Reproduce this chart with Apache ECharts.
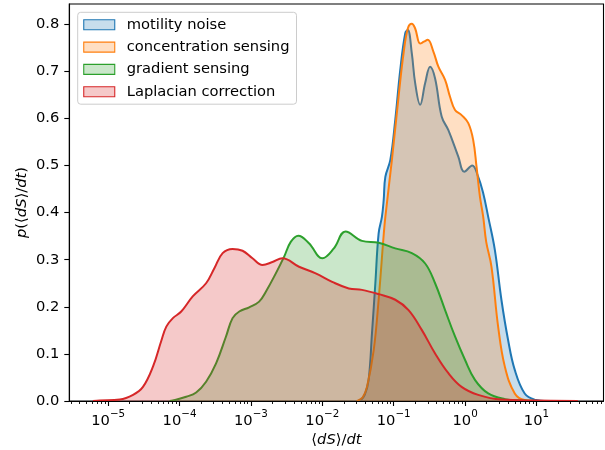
<!DOCTYPE html>
<html><head><meta charset="utf-8">
<script src="https://cdn.jsdelivr.net/npm/echarts@6/dist/echarts.min.js"></script>
<style>html,body{margin:0;padding:0;background:#fff}#c{width:605px;height:450px}</style>
</head><body><div id="c"></div>
<script>
// ---- data (x given as log10 of <dS>/dt, y = density) ----
const seriesNames = ['motility noise', 'concentration sensing', 'gradient sensing', 'Laplacian correction'];

const motilityLogX = [-1.49, -1.462, -1.406, -1.351, -1.304, -1.257, -1.211, -1.165, -1.140, -1.117, -1.047, -0.978, -0.908, -0.838, -0.802, -0.746, -0.699, -0.629, -0.559, -0.490, -0.420, -0.328, -0.234, -0.095, -0.011, 0.100, 0.184, 0.254, 0.324, 0.417, 0.509, 0.602, 0.696, 0.835, 0.975, 1.160];
const motilityDensity = [0, 0.002, 0.013, 0.045, 0.144, 0.250, 0.356, 0.391, 0.427, 0.476, 0.512, 0.597, 0.703, 0.781, 0.788, 0.738, 0.675, 0.629, 0.675, 0.710, 0.685, 0.604, 0.575, 0.519, 0.487, 0.500, 0.476, 0.441, 0.391, 0.321, 0.215, 0.130, 0.066, 0.016, 0.003, 0];

const concentrationLogX = [-1.517, -1.489, -1.433, -1.374, -1.280, -1.211, -1.140, -1.117, -1.025, -0.932, -0.862, -0.802, -0.746, -0.699, -0.629, -0.576, -0.523, -0.444, -0.374, -0.280, -0.211, -0.141, -0.049, 0.045, 0.114, 0.160, 0.208, 0.254, 0.296, 0.370, 0.463, 0.557, 0.696, 0.835, 1.021];
const concentrationDensity = [0, 0.002, 0.008, 0.030, 0.108, 0.215, 0.353, 0.391, 0.512, 0.646, 0.738, 0.791, 0.801, 0.791, 0.759, 0.763, 0.767, 0.742, 0.710, 0.682, 0.646, 0.618, 0.607, 0.590, 0.554, 0.498, 0.434, 0.391, 0.338, 0.285, 0.158, 0.073, 0.016, 0.002, 0];

const gradientLogX = [-4.139, -4.093, -3.907, -3.767, -3.628, -3.488, -3.349, -3.257, -3.163, -3.024, -2.885, -2.791, -2.651, -2.536, -2.442, -2.336, -2.187, -1.999, -1.838, -1.675, -1.444, -1.211, -0.978, -0.746, -0.559, -0.420, -0.280, -0.141, 0.0, 0.138, 0.324, 0.557, 0.784, 1.021];
const gradientDensity = [0, 0.001, 0.009, 0.018, 0.041, 0.080, 0.137, 0.176, 0.190, 0.199, 0.211, 0.232, 0.271, 0.306, 0.338, 0.351, 0.335, 0.303, 0.324, 0.360, 0.340, 0.336, 0.324, 0.314, 0.292, 0.250, 0.193, 0.137, 0.087, 0.045, 0.016, 0.004, 0.001, 0];

const laplacianLogX = [-5.212, -5.116, -4.837, -4.651, -4.512, -4.372, -4.255, -4.185, -4.093, -3.976, -3.815, -3.628, -3.512, -3.396, -3.257, -3.117, -2.978, -2.838, -2.699, -2.559, -2.326, -2.093, -1.862, -1.629, -1.444, -1.211, -0.978, -0.792, -0.607, -0.420, -0.234, -0.049, 0.184, 0.505, 1.021, 1.579];
const laplacianDensity = [0, 0.001, 0.003, 0.013, 0.030, 0.073, 0.128, 0.158, 0.176, 0.190, 0.222, 0.250, 0.282, 0.314, 0.323, 0.319, 0.303, 0.289, 0.295, 0.303, 0.285, 0.271, 0.253, 0.239, 0.236, 0.227, 0.215, 0.193, 0.151, 0.101, 0.059, 0.030, 0.013, 0.003, 0.001, 0];

const xMajorExponents = [-5, -4, -3, -2, -1, 0, 1];
const yTickValues = [0, 0.1, 0.2, 0.3, 0.4, 0.5, 0.6, 0.7, 0.8];

// ---- styling ----
const X_MIN = -5.544, X_MAX = 1.939, Y_MAX = 0.843;
const FONT = 'DejaVu Sans';
const FS = 14.7;
const lineColors = ['#1f77b4', '#ff7f0e', '#2ca02c', '#d62728'];
const fillColors = ['rgba(31,119,180,0.25)', 'rgba(255,127,14,0.25)', 'rgba(44,160,44,0.25)', 'rgba(214,39,40,0.25)'];

const xs = [motilityLogX, concentrationLogX, gradientLogX, laplacianLogX];
const ys = [motilityDensity, concentrationDensity, gradientDensity, laplacianDensity];

const minorTicks = [];
for (let n = -6; n <= 1; n++) {
  for (let k = 2; k <= 9; k++) {
    const v = n + Math.log10(k);
    if (v > X_MIN && v < X_MAX) minorTicks.push(v);
  }
}

const chart = echarts.init(document.getElementById('c'), null, {renderer: 'canvas'});
const series = seriesNames.map((name, i) => ({
  name: name,
  type: 'line',
  xAxisIndex: 0,
  yAxisIndex: 0,
  z: 2 + i,
  data: xs[i].map((x, j) => [x, ys[i][j]]),
  symbol: 'none',
  showSymbol: false,
  smooth: 0.4,
  lineStyle: {color: lineColors[i], width: 2},
  itemStyle: {color: lineColors[i]},
  areaStyle: {color: fillColors[i], opacity: 1},
  emphasis: {disabled: true},
  silent: true
}));

const option = {
  animation: false,
  backgroundColor: '#fff',
  textStyle: {fontFamily: FONT},
  grid: {left: 69.3, right: 1.5, top: 4, bottom: 49, show: true, borderColor: '#000', borderWidth: 1.1, containLabel: false, outerBoundsMode: 'none'},
  legend: {
    orient: 'vertical', left: 77.7, top: 12.3, z: 20,
    itemWidth: 31, itemHeight: 10, itemGap: 7.3,
    padding: [5, 7, 5, 5.5],
    backgroundColor: 'rgba(255,255,255,0.8)', borderColor: '#cccccc', borderWidth: 1, borderRadius: 3,
    textStyle: {fontFamily: FONT, fontSize: FS, color: '#000', padding: [0, 0, 0, 7]},
    selectedMode: false,
    data: seriesNames.map((n, i) => ({name: n, icon: 'rect', itemStyle: {color: fillColors[i], borderColor: lineColors[i], borderWidth: 1.1}}))
  },
  xAxis: [{
    type: 'value', min: X_MIN, max: X_MAX, position: 'bottom', z: 10,
    axisLine: {show: true, onZero: false, lineStyle: {color: '#000', width: 1.1}},
    axisTick: {show: true, customValues: xMajorExponents, length: 5, lineStyle: {color: '#000', width: 1.1}},
    axisLabel: {
      customValues: xMajorExponents, margin: 8, color: '#000',
      formatter: v => '{b|10}{s|' + (v < 0 ? '\u2212' + (-v) : String(v)) + '}',
      rich: {
        b: {fontFamily: FONT, fontSize: FS, color: '#000', lineHeight: 20, verticalAlign: 'bottom'},
        s: {fontFamily: FONT, fontSize: 10.3, color: '#000', lineHeight: 12, verticalAlign: 'top'}
      }
    },
    splitLine: {show: false},
    name: '{n|\u27e8}{i|dS}{n|\u27e9/}{i|dt}', nameLocation: 'middle', nameGap: 31, nameMoveOverlap: false,
    nameTextStyle: {rich: {
      n: {fontFamily: FONT, fontSize: FS, color: '#000', lineHeight: 17},
      i: {fontFamily: FONT, fontSize: FS, fontStyle: 'italic', color: '#000', lineHeight: 17}
    }}
  }, {
    type: 'value', min: X_MIN, max: X_MAX, position: 'bottom',
    axisLine: {show: false, onZero: false},
    axisTick: {show: true, customValues: minorTicks, length: 3, lineStyle: {color: '#000', width: 0.9}},
    axisLabel: {show: false},
    splitLine: {show: false}
  }],
  yAxis: {
    type: 'value', min: 0, max: Y_MAX, position: 'left', z: 10,
    axisLine: {show: true, onZero: false, lineStyle: {color: '#000', width: 1.1}},
    axisTick: {show: true, customValues: yTickValues, length: 5, lineStyle: {color: '#000', width: 1.1}},
    axisLabel: {customValues: yTickValues, margin: 10, color: '#000', fontFamily: FONT, fontSize: FS, formatter: v => v.toFixed(1)},
    splitLine: {show: false},
    name: '{i|p}{n|(\u27e8}{i|dS}{n|\u27e9/}{i|dt}{n|)}', nameLocation: 'middle', nameRotate: 90, nameGap: 39, nameMoveOverlap: false,
    nameTextStyle: {rich: {
      n: {fontFamily: FONT, fontSize: FS, color: '#000', lineHeight: 17},
      i: {fontFamily: FONT, fontSize: FS, fontStyle: 'italic', color: '#000', lineHeight: 17}
    }}
  },
  series: series
};
chart.setOption(option);
</script>
</body></html>
